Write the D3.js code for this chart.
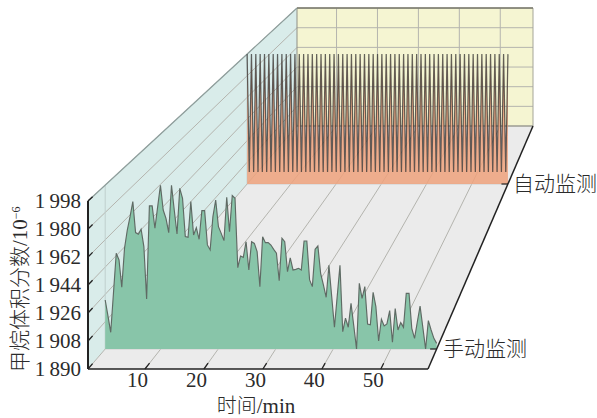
<!DOCTYPE html>
<html><head><meta charset="utf-8">
<script src="https://cdn.jsdelivr.net/npm/d3@7"></script>
<style>
html,body{margin:0;padding:0;background:#fff}
svg{display:block}
text{fill:#2b2b2b}
.num{font-family:"Liberation Serif",serif;font-size:21px}
.cjk{font-family:"Noto Sans CJK SC","Noto Sans CJK JP",sans-serif;font-size:21px;font-weight:300}
</style></head><body><svg id="c" width="597" height="418"></svg>
<script>
const yTicks=[1890,1908,1926,1944,1962,1980,1998];
const xTicks=[10,20,30,40,50];
const seriesNames=["手动监测","自动监测"];
const manual=[1922.3,1911.8,1901,1927.1,1953.1,1948.7,1930.7,1956.4,1968.4,1977.2,1987.1,1966.7,1965.6,1968.9,1957.5,1923,1984.3,1984.3,1969.6,1983.8,1997.9,1981.6,1976.1,1966.7,1997.9,1981.6,1965.8,1995.9,1989.3,1964.1,1963.6,1987.1,1965.1,1970,1962.3,1981.2,1981.2,1958.6,1955.3,1977.2,1988.2,1970.6,1966.2,1961.4,1990,1967.3,1991.1,1989.3,1943.6,1951.3,1950.4,1960.7,1942.1,1960.7,1959.6,1954.2,1931.1,1964,1960.1,1960.1,1958.5,1955.7,1953.1,1935,1963,1960.7,1941,1950,1942.1,1942.5,1943.2,1942.1,1961.2,1961.2,1935.5,1931.1,1955.7,1957.9,1939.9,1932.2,1924.1,1945.1,1924.7,1904.3,1924.7,1945.1,1901.4,1910.4,1904.3,1920.1,1905.2,1890,1933.3,1923.4,1931.1,1906.5,1906,1927.4,1917.9,1895.3,1909.6,1905.2,1906.5,1915.3,1894.4,1916.6,1902.5,1907.4,1904.3,1926.7,1926.7,1903.6,1897,1907.8,1918.3,1904.3,1890,1908.7,1902.5,1897,1893.7];
const auto=[1998,1900,1998,1900,1998,1900,1998,1900,1998,1900,1998,1900,1998,1900,1998,1900,1998,1900,1998,1900,1998,1900,1998,1900,1998,1900,1998,1900,1998,1900,1998,1900,1998,1900,1998,1900,1998,1900,1998,1900,1998,1900,1998,1900,1998,1900,1998,1900,1998,1900,1998,1900,1998,1900,1998,1900,1998,1900,1998,1900,1998,1900,1998,1900,1998,1900,1998,1900,1998,1900,1998,1900,1998,1900,1998,1900,1998,1900,1998,1900,1998,1900,1998,1900,1998,1900,1998,1900,1998,1900,1998,1900,1998,1900,1998,1900,1998,1900,1998,1900,1998,1900,1998,1900,1998,1900,1998,1900,1998,1900,1998,1900,1998,1900,1998,1900,1998,1900,1998,1900,1998];

const C={back:"#f5f5d2",left:"#d9ecea",floor:"#ebebeb",green:"#88c5a9",orange:"#eea27c",grid:"#b4b4ae",axis:"#222"};
const svg=d3.select("#c");
const yFront=d3.scaleLinear().domain([1890,1998]).range([369,201]);
const xFront=d3.scaleLinear().domain([0.34,58]).range([88,428]);
const fx=d3.scaleLinear().domain(xFront.domain()).range([0,1]);
const fv=d3.scaleLinear().domain(yFront.domain()).range([0,1]);
const depth={manual:20/243,auto:185/243};
function P(f,d,h){
  const xl=88+209*d, xr=428+105*d;
  return [xl+(xr-xl)*f, 369-243*d-h*168*(1-0.298*d)];
}
const poly=(pts,fill,extra={})=>{const s=svg.append("polygon").attr("points",pts.map(p=>p.join(",")).join(" ")).attr("fill",fill);for(const k in extra)s.attr(k,extra[k]);return s;};
const seg=(a,b,col,w)=>svg.append("line").attr("x1",a[0]).attr("y1",a[1]).attr("x2",b[0]).attr("y2",b[1]).attr("stroke",col).attr("stroke-width",w);

// walls and floor
poly([P(0,0,0),P(1,0,0),P(1,1,0),P(0,1,0)],C.floor);
poly([P(0,0,0),P(0,1,0),P(0,1,1),P(0,0,1)],C.left);
poly([P(0,1,0),P(1,1,0),P(1,1,1),P(0,1,1)],C.back);

// grid
xTicks.forEach(t=>{const f=fx(t);seg(P(f,0,0),P(f,1,0),C.grid,1);seg(P(f,1,0),P(f,1,1),C.grid,1);});
yTicks.forEach(v=>{const h=fv(v);seg(P(0,0,h),P(0,1,h),C.grid,1);seg(P(0,1,h),P(1,1,h),C.grid,1);});
[depth.manual,depth.auto].forEach(d=>{seg(P(0,d,0),P(0,d,1),"#bfcfcd",1);seg(P(0,d,0),P(1,d,0),"#cfcfcf",1);});
seg(P(0,1,0),P(1,1,0),"#8f8f85",1);
seg(P(0,1,0),P(0,1,1),"#8f8f85",1);
seg(P(1,1,0),P(1,1,1),"#a5a598",1);
seg(P(0,1,1),P(1,1,1),"#77776a",1.4);
seg(P(0,0,1),P(0,1,1),"#8f9f9d",1.2);

// series
function drawSeries(vals,d,fill,op,sw,sc){
  const fi=d3.scaleLinear().domain([0,vals.length-1]).range([0,1]);
  const top=(v,i)=>P(fi(i),d,fv(v));
  const area=d3.area().x((v,i)=>top(v,i)[0]).y1((v,i)=>top(v,i)[1]).y0(P(0,d,0)[1]);
  const line=d3.line().x((v,i)=>top(v,i)[0]).y((v,i)=>top(v,i)[1]);
  svg.append("path").attr("d",area(vals)).attr("fill",fill).attr("fill-opacity",op);
  svg.append("path").attr("d",line(vals)).attr("fill","none").attr("stroke",sc).attr("stroke-width",sw).attr("stroke-linejoin","miter");
}
drawSeries(auto,depth.auto,C.orange,0.85,1.25,"rgba(45,45,45,.72)");
drawSeries(manual,depth.manual,C.green,1,1.15,"#5f6a64");

// axes: frame
seg(P(0,0,0),P(0,0,1),C.axis,2);
seg(P(0,0,0),P(1,0,0),C.axis,1.5);
seg(P(1,0,0),P(1,1,0),C.axis,1.5);
// slanted ticks
yTicks.forEach(v=>{const h=fv(v);seg(P(0,0,h),P(0,0.022,h),C.axis,1.3);});
xTicks.forEach(t=>{const f=fx(t);seg(P(f,0,0),P(f,0.024,0),C.axis,1.3);});
[depth.manual,depth.auto].forEach(d=>{const a=P(1,d,0);seg([a[0]-6.5,a[1]],a,C.axis,1.2);});

// tick labels
const gy=svg.append("g").attr("transform","translate(88,0)")
  .call(d3.axisLeft(yFront).tickValues(yTicks).tickSize(0).tickPadding(7)
  .tickFormat(v=>{const s=String(v);return s[0]+"\u2009"+s.slice(1);}));
gy.select(".domain").remove();
gy.selectAll("text").attr("class","num").attr("font-family",null).attr("font-size",null);
const gx=svg.append("g").attr("transform","translate(-8,369)")
  .call(d3.axisBottom(xFront).tickValues(xTicks).tickSize(0).tickPadding(3).tickFormat(d3.format("d")));
gx.select(".domain").remove();
gx.selectAll("text").attr("class","num").attr("font-family",null).attr("font-size",null);

// titles
const xt=svg.append("text").attr("x",256).attr("y",413).attr("text-anchor","middle").attr("class","cjk").style("font-size","20px");
xt.append("tspan").text("时间");
xt.append("tspan").attr("class","num").text("/min");
const yt=svg.append("text").attr("transform","translate(27,372) rotate(-90)").attr("class","cjk");
yt.append("tspan").text("甲烷体积分数");
yt.append("tspan").attr("class","num").text("/10");
yt.append("tspan").attr("class","num").attr("dy",-7).style("font-size","12px").text("−6");

svg.append("text").attr("x",513).attr("y",191).attr("class","cjk").text(seriesNames[1]);
svg.append("text").attr("x",443).attr("y",356).attr("class","cjk").text(seriesNames[0]);
</script></body></html>
